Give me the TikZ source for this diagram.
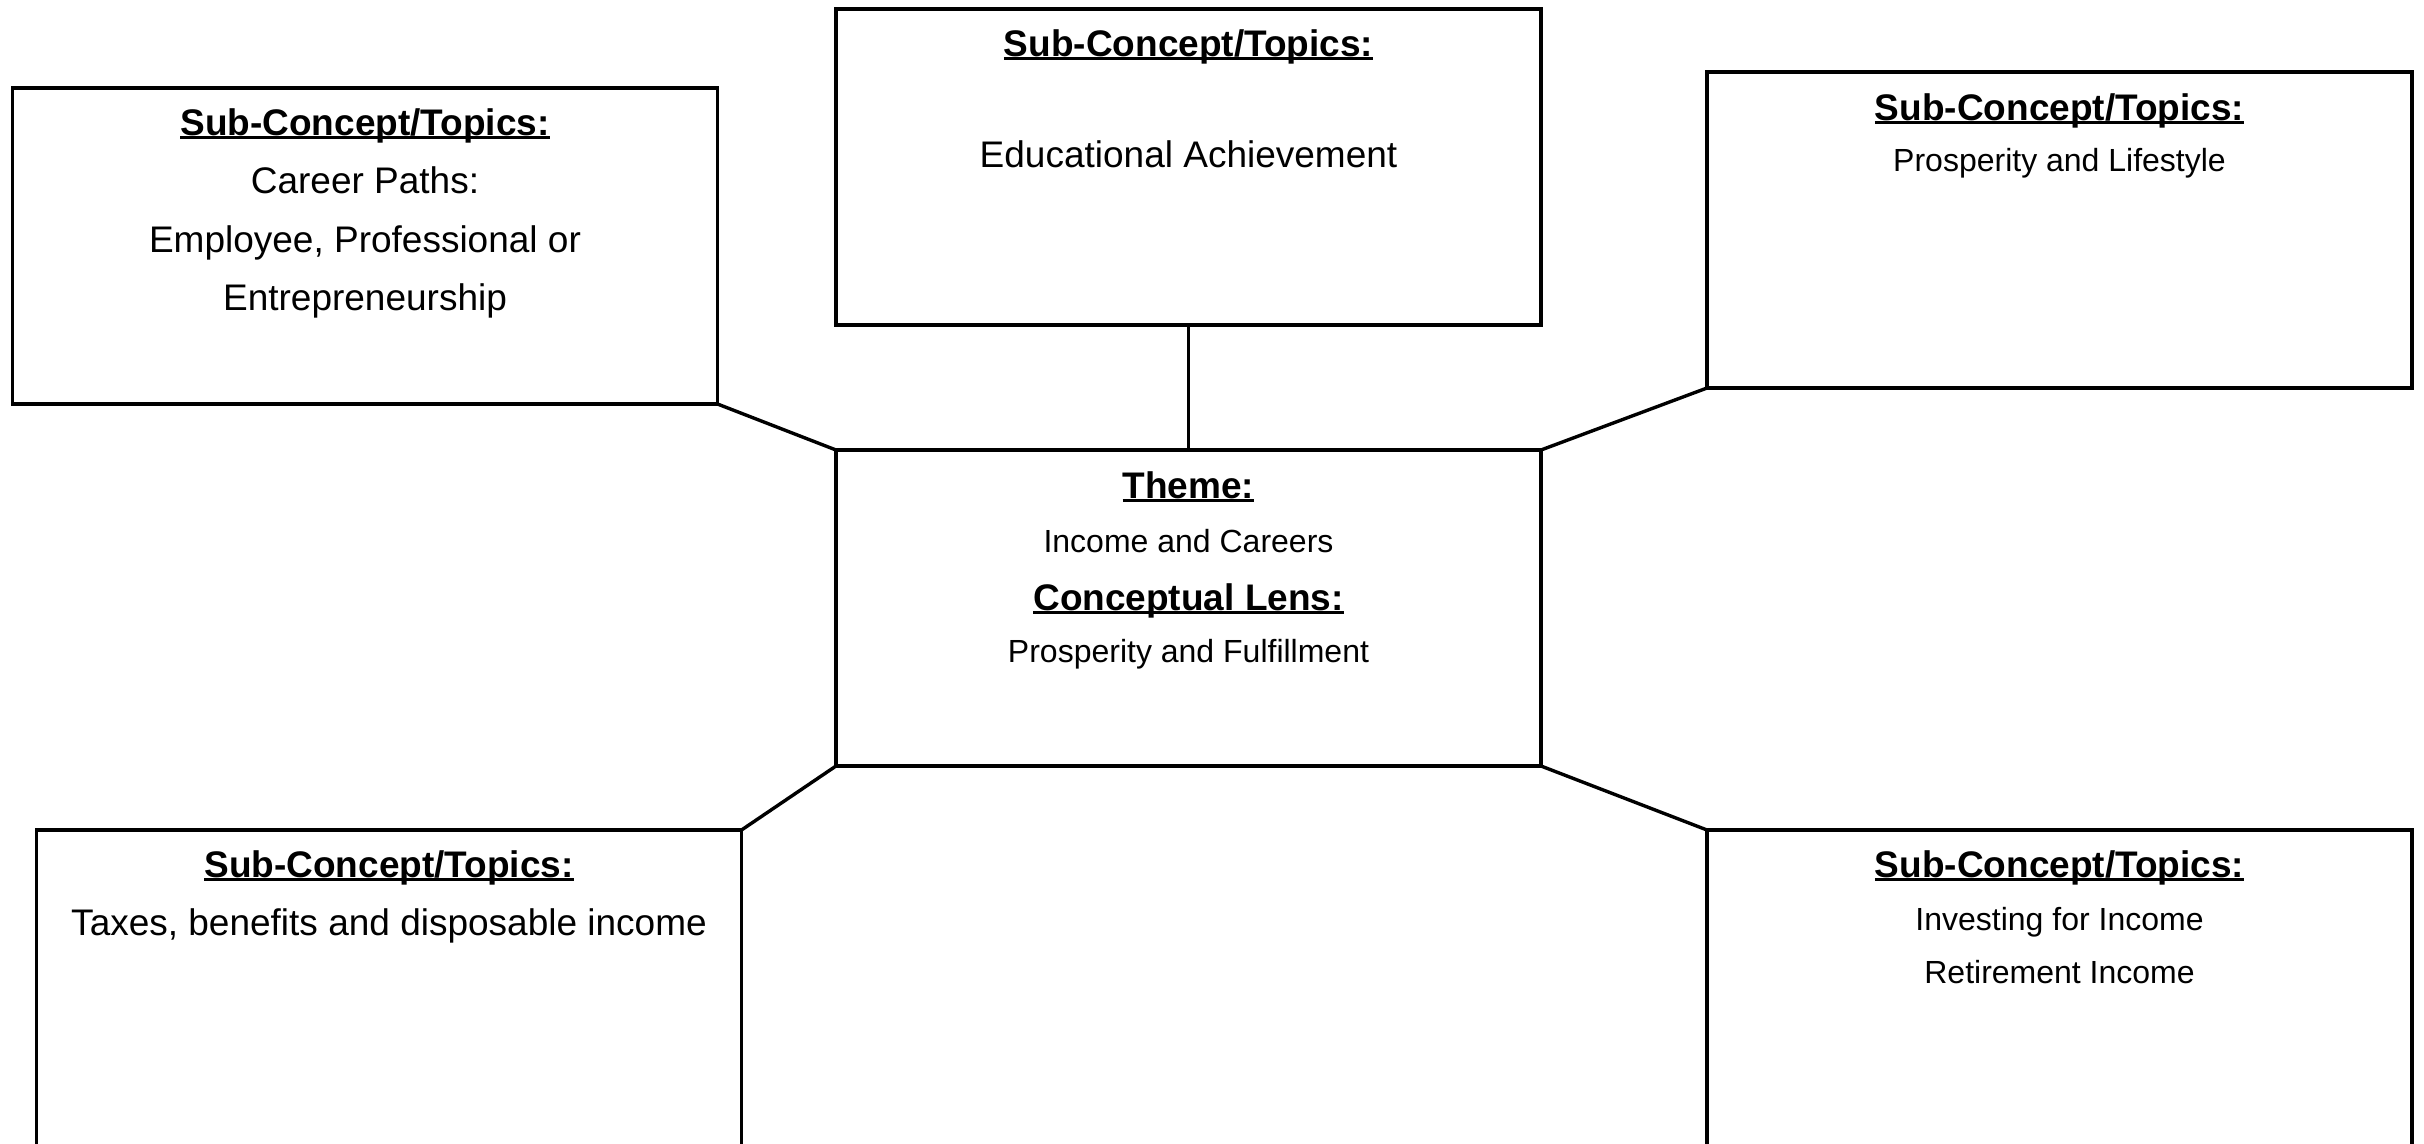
\documentclass[tikz,border=0pt]{standalone}
\usepackage{fontspec}
\setmainfont{Liberation Sans}
\newsavebox\ulsave
\newcommand\ulbox[1]{\sbox\ulsave{#1}\rlap{\rule[-0.11em]{\wd\ulsave}{0.075em}}\usebox\ulsave}
\tikzset{
  box/.style={draw, line width=3.4pt, rectangle, minimum width=705pt, minimum height=316pt, outer sep=0pt, inner sep=0pt},
  link/.style={line width=3.4pt},
  big/.style={font=\fontsize{37}{44}\selectfont, anchor=base, inner sep=0pt},
  bigb/.style={font=\fontsize{37}{44}\selectfont\bfseries, anchor=base, inner sep=0pt},
  small/.style={font=\fontsize{32}{38}\selectfont, anchor=base, inner sep=0pt}
}
\begin{document}
\begin{tikzpicture}[x=1pt,y=-1pt]
\fill[white] (0,0) rectangle (2424,1143);
\useasboundingbox (0,0) rectangle (2424,1143);
\clip (0,0) rectangle (2424,1143);
% boxes
\node[box] (tl) at (365,246) {};
\node[box] (tc) at (1188.5,167) {};
\node[box] (tr) at (2059.5,230) {};
\node[box] (c)  at (1188.5,608) {};
\node[box] (bl) at (389,988) {};
\node[box] (br) at (2059.5,988) {};
% connectors
\draw[link] (tl.south east) -- (c.north west);
\draw[link] (tc.south) -- (c.north);
\draw[link] (tr.south west) -- (c.north east);
\draw[link] (c.south west) -- (bl.north east);
\draw[link] (c.south east) -- (br.north west);
% top left text
\node[bigb] (tlh) at (365,135) {\ulbox{Sub-Concept/Topics:}};
\node[big] (tl1) at (365,193) {Career Paths:};
\node[big] (tl2) at (365,252) {Employee, Professional or};
\node[big] (tl3) at (365,310) {Entrepreneurship};
% top centre text
\node[bigb] (tch) at (1188.5,56) {\ulbox{Sub-Concept/Topics:}};
\node[big] (tc1) at (1188.5,167) {Educational Achievement};
% top right text
\node[bigb] (trh) at (2059.5,120) {\ulbox{Sub-Concept/Topics:}};
\node[small] (tr1) at (2059.5,171) {Prosperity and Lifestyle};
% centre text
\node[bigb] (ch) at (1188.5,498) {\ulbox{Theme:}};
\node[small] (c1) at (1188.5,552) {Income and Careers};
\node[bigb] (ch2) at (1188.5,610) {\ulbox{Conceptual Lens:}};
\node[small] (c2) at (1188.5,662) {Prosperity and Fulfillment};
% bottom left text
\node[bigb] (blh) at (389,877) {\ulbox{Sub-Concept/Topics:}};
\node[big] (bl1) at (389,935) {Taxes, benefits and disposable income};
% bottom right text
\node[bigb] (brh) at (2059.5,877) {\ulbox{Sub-Concept/Topics:}};
\node[small] (br1) at (2059.5,930) {Investing for Income};
\node[small] (br2) at (2059.5,983) {Retirement Income};
\end{tikzpicture}
\end{document}
